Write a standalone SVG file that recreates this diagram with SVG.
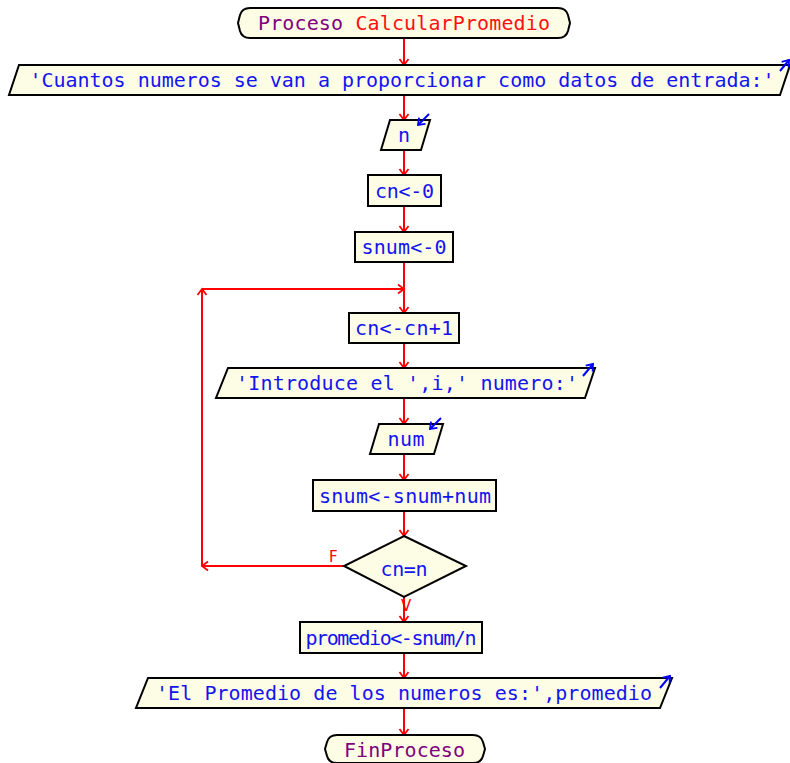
<svg xmlns="http://www.w3.org/2000/svg" width="790" height="763" viewBox="0 0 790 763">
  <defs>
    <marker id="ah" markerUnits="userSpaceOnUse" markerWidth="10" markerHeight="10" refX="6" refY="4.5" orient="auto" overflow="visible">
      <path d="M0,0 L6,4.5 L0,9" fill="none" stroke="#ff0000" stroke-width="1.8"/>
    </marker>
    <marker id="bh" markerUnits="userSpaceOnUse" markerWidth="10" markerHeight="10" refX="6" refY="4.5" orient="auto" overflow="visible">
      <path d="M0,0 L6,4.5 L0,9" fill="none" stroke="#0000ff" stroke-width="1.8"/>
    </marker>
  </defs>
  <style>
    .shape { fill: #fdfde6; stroke: #000000; stroke-width: 2; }
    .txt { font-family: "DejaVu Sans Mono", "Liberation Mono", monospace; font-size: 20px; fill: #1414f0; text-anchor: middle; }
    .kw { fill: #800080; }
    .nm { fill: #ff1010; }
    .lbl { font-family: "DejaVu Sans", "Liberation Sans", sans-serif; font-size: 15px; fill: #ff0000; }
    .flow { fill: none; stroke: #ff0000; stroke-width: 2; }
    .io { fill: none; stroke: #0000ff; stroke-width: 2; }
  </style>
  <rect width="790" height="763" fill="#ffffff"/>

  <!-- connectors -->
  <g id="connectors">
    <line class="flow" x1="404" y1="38" x2="404" y2="65" marker-end="url(#ah)"/>
    <line class="flow" x1="404" y1="95" x2="404" y2="120" marker-end="url(#ah)"/>
    <line class="flow" x1="404" y1="150" x2="404" y2="175" marker-end="url(#ah)"/>
    <line class="flow" x1="404" y1="206" x2="404" y2="232" marker-end="url(#ah)"/>
    <line class="flow" x1="404" y1="262" x2="404" y2="313" marker-end="url(#ah)"/>
    <line class="flow" x1="404" y1="343" x2="404" y2="368" marker-end="url(#ah)"/>
    <line class="flow" x1="404" y1="398" x2="404" y2="424" marker-end="url(#ah)"/>
    <line class="flow" x1="404" y1="454" x2="404" y2="480" marker-end="url(#ah)"/>
    <line class="flow" x1="404" y1="511" x2="404" y2="536" marker-end="url(#ah)"/>
    <line class="flow" x1="404" y1="597" x2="404" y2="622" marker-end="url(#ah)"/>
    <line class="flow" x1="404" y1="653" x2="404" y2="678" marker-end="url(#ah)"/>
    <line class="flow" x1="404" y1="708" x2="404" y2="735" marker-end="url(#ah)"/>
    <!-- loop back when cn=n is false -->
    <line class="flow" x1="344" y1="566" x2="202" y2="566" marker-end="url(#ah)"/>
    <line class="flow" x1="202" y1="566" x2="202" y2="289" marker-end="url(#ah)"/>
    <line class="flow" x1="202" y1="289" x2="404" y2="289" marker-end="url(#ah)"/>
    <text class="lbl" x="329" y="562">F</text>
    <text class="lbl" x="401" y="611">V</text>
  </g>

  <g id="inicio">
    <path class="shape" d="M250,8 H558 Q566,8 568,15 L570,23 L568,31 Q566,38 558,38 H250 Q242,38 240,31 L238,23 L240,15 Q242,8 250,8 Z"/>
    <text class="txt" x="404" y="30" textLength="292" lengthAdjust="spacing"><tspan class="kw">Proceso</tspan> <tspan class="nm">CalcularPromedio</tspan></text>
  </g>

  <g id="escribir1">
    <polygon class="shape" points="19,65 790,65 780,95 9,95"/>
    <text class="txt" x="402" y="87" textLength="745" lengthAdjust="spacing">'Cuantos numeros se van a proporcionar como datos de entrada:'</text>
    <line class="io" x1="780" y1="71" x2="789" y2="60" marker-end="url(#bh)"/>
  </g>

  <g id="leer_n">
    <polygon class="shape" points="390,120 430,120 421,150 381,150"/>
    <text class="txt" x="404" y="142">n</text>
    <line class="io" x1="429" y1="114" x2="418" y2="125" marker-end="url(#bh)"/>
  </g>

  <g id="asig_cn">
    <rect class="shape" x="368" y="175" width="73" height="31"/>
    <text class="txt" x="404.5" y="198" textLength="59" lengthAdjust="spacing">cn&lt;-0</text>
  </g>

  <g id="asig_snum">
    <rect class="shape" x="355" y="232" width="98" height="30"/>
    <text class="txt" x="404" y="254" textLength="85" lengthAdjust="spacing">snum&lt;-0</text>
  </g>

  <g id="incremento">
    <rect class="shape" x="349" y="313" width="110" height="30"/>
    <text class="txt" x="404" y="335" textLength="98" lengthAdjust="spacing">cn&lt;-cn+1</text>
  </g>

  <g id="escribir2">
    <polygon class="shape" points="228,368 595,368 585,398 216,398"/>
    <text class="txt" x="407" y="390" textLength="342" lengthAdjust="spacing">'Introduce el ',i,' numero:'</text>
    <line class="io" x1="583" y1="376" x2="593" y2="364" marker-end="url(#bh)"/>
  </g>

  <g id="leer_num">
    <polygon class="shape" points="379,424 443,424 434,454 370,454"/>
    <text class="txt" x="406" y="446" textLength="37" lengthAdjust="spacing">num</text>
    <line class="io" x1="441" y1="418" x2="430" y2="429" marker-end="url(#bh)"/>
  </g>

  <g id="acumula">
    <rect class="shape" x="313" y="480" width="183" height="31"/>
    <text class="txt" x="405" y="503" textLength="172" lengthAdjust="spacing">snum&lt;-snum+num</text>
  </g>

  <g id="condicion">
    <polygon class="shape" points="404,536 466,566 404,597 344,566"/>
    <text class="txt" x="404" y="576" textLength="47" lengthAdjust="spacing">cn=n</text>
  </g>

  <g id="promedio">
    <rect class="shape" x="300" y="622" width="182" height="31"/>
    <text class="txt" x="391" y="645" textLength="171" lengthAdjust="spacing">promedio&lt;-snum/n</text>
  </g>

  <g id="escribir3">
    <polygon class="shape" points="148,678 672,678 660,708 136,708"/>
    <text class="txt" x="404" y="700" textLength="496" lengthAdjust="spacing">'El Promedio de los numeros es:',promedio</text>
    <line class="io" x1="660" y1="688" x2="670" y2="676" marker-end="url(#bh)"/>
  </g>

  <g id="fin">
    <path class="shape" d="M337,735 H473 Q481,735 483,742 L485,749 L483,756 Q481,763 473,763 H337 Q329,763 327,756 L325,749 L327,742 Q329,735 337,735 Z"/>
    <text class="txt kw" x="404.5" y="757" textLength="121" lengthAdjust="spacing">FinProceso</text>
  </g>
</svg>
